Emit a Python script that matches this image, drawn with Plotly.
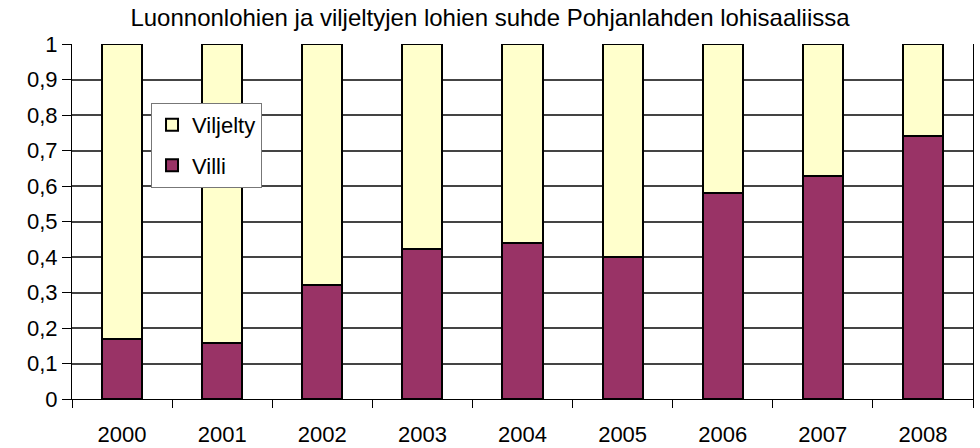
import plotly.graph_objects as go

years = ["2000", "2001", "2002", "2003", "2004", "2005", "2006", "2007", "2008"]
villi = [0.168, 0.157, 0.321, 0.423, 0.439, 0.401, 0.579, 0.629, 0.741]
viljelty = [round(1 - v, 3) for v in villi]
y_ticks = [0, 0.1, 0.2, 0.3, 0.4, 0.5, 0.6, 0.7, 0.8, 0.9, 1]
y_labels = ["0", "0,1", "0,2", "0,3", "0,4", "0,5", "0,6", "0,7", "0,8", "0,9", "1"]

FONT = "Liberation Sans, Arial, sans-serif"
BAR_W = 0.4
GRID = "#444444"

fig = go.Figure()
fig.add_trace(go.Bar(
    x=years, y=villi, name="Villi", legendgroup="b", legendrank=2,
    marker=dict(color="#993366", line=dict(color="#000000", width=2)),
    width=BAR_W,
))
fig.add_trace(go.Bar(
    x=years, y=viljelty, name="Viljelty", legendgroup="a", legendrank=1,
    marker=dict(color="#FFFFCC", line=dict(color="#000000", width=2)),
    width=BAR_W,
))

fig.update_layout(
    barmode="stack",
    width=980, height=448,
    margin=dict(l=72, r=7, t=44, b=49),
    paper_bgcolor="white", plot_bgcolor="white",
    font=dict(family=FONT, size=22, color="#000000"),
    title=dict(
        text="Luonnonlohien ja viljeltyjen lohien suhde Pohjanlahden lohisaaliissa",
        x=0.5, xanchor="center", y=0.96, yanchor="middle",
        font=dict(family=FONT, size=24, color="#000000"),
    ),
    legend=dict(
        x=0.0877, y=0.834, xanchor="left", yanchor="top",
        bgcolor="white", bordercolor="#777777", borderwidth=1,
        traceorder="grouped", tracegroupgap=9,
        font=dict(family=FONT, size=22, color="#000000"),
    ),
    xaxis=dict(
        type="category",
        showline=True, linecolor="#000000", linewidth=1,
        ticks="outside", tickson="boundaries", ticklen=8, tickcolor="#000000",
        showgrid=False, automargin=False,
        tickfont=dict(family=FONT, size=22),
        ticklabelstandoff=16,
    ),
    yaxis=dict(
        range=[0, 1],
        tickvals=y_ticks, ticktext=y_labels,
        showline=True, linecolor="#000000", linewidth=1, mirror=True,
        ticks="outside", ticklen=9, tickcolor="#000000",
        showgrid=True, gridcolor=GRID, gridwidth=1.5,
        zeroline=False, automargin=False,
        tickfont=dict(family=FONT, size=22),
    ),
    bargap=0.6,
)

fig.write_html(
    "out.html",
    config={"displayModeBar": False},
    post_script="document.body.style.margin='0';document.body.style.padding='0';",
)
